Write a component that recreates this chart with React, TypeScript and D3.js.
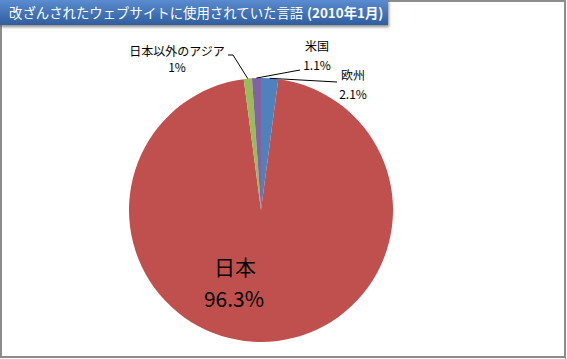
import React from "react";
import * as d3 from "d3";

const regions = ["欧州", "日本", "日本以外のアジア", "米国"];
const shares = [2.1, 96.3, 1, 1.1];
const shareLabels = ["2.1%", "96.3%", "1%", "1.1%"];
const colors = ["#4F81BD", "#C0504D", "#9BBB59", "#8064A2"];
const titleMain = "改ざんされたウェブサイトに使用されていた言語";
const titleDate = "(2010年1月)";

const W = 567;
const H = 359;
const font = "'Noto Sans CJK JP', 'Noto Sans', sans-serif";

const App: React.FC = () => {
  const cx = 261;
  const cy = 210;
  const r = 132;

  const pie = d3.pie<number>().sort(null).value((d) => d);
  const arcs = pie(shares);
  const arc = d3.arc<d3.PieArcDatum<number>>().innerRadius(0).outerRadius(r);

  // point on rim for leader lines
  const rim = (a: d3.PieArcDatum<number>) => {
    const mid = (a.startAngle + a.endAngle) / 2;
    return [cx + Math.sin(mid) * r, cy - Math.cos(mid) * r];
  };

  const eu = rim(arcs[0]);
  const asia = rim(arcs[2]);
  const us = rim(arcs[3]);

  return (
    <svg
      width={W}
      height={H}
      style={{ position: "absolute", left: 0, top: 0, fontFamily: font }}
    >
      <defs>
        <linearGradient id="titleGrad" x1="0" y1="0" x2="0" y2="1">
          <stop offset="0%" stopColor="#5B8BD0" />
          <stop offset="100%" stopColor="#2F5E9E" />
        </linearGradient>
        <filter id="shadow" x="-5%" y="-20%" width="110%" height="160%">
          <feDropShadow dx="1" dy="2" stdDeviation="1.5" floodColor="#000" floodOpacity="0.45" />
        </filter>
      </defs>
      <rect x={0} y={0} width={W} height={H} fill="#fff" />
      {/* frame */}
      <rect x={1} y={1} width={W - 3} height={H - 3} fill="none" stroke="#8C8C8C" strokeWidth={2} />
      <line x1={W - 1.5} y1={0} x2={W - 1.5} y2={H} stroke="#8C8C8C" strokeWidth={1} />

      {/* title */}
      <rect x={0} y={0} width={388} height={25} fill="url(#titleGrad)" filter="url(#shadow)" />
      <text x={9} y={18} fill="#fff" fontSize={13.4}>
        {titleMain}
      </text>
      <text x={307} y={18} fill="#fff" fontSize={13.4} fontWeight="bold">
        {titleDate}
      </text>

      {/* pie */}
      <g transform={`translate(${cx},${cy})`}>
        {arcs.map((a, i) => (
          <path key={regions[i]} d={arc(a) || ""} fill={colors[i]} />
        ))}
      </g>

      {/* leader lines */}
      <g stroke="#000" strokeWidth={1} fill="none">
        <polyline points={`228,55 233,55 ${asia[0]},${asia[1]}`} />
        <polyline points={`300,70 ${us[0]},${us[1]}`} />
        <polyline points={`337,82 ${eu[0]},${eu[1]}`} />
      </g>

      {/* labels */}
      <g fontSize={12} fill="#000" textAnchor="middle">
        <text x={177} y={56}>{regions[2]}</text>
        <text x={177} y={72}>{shareLabels[2]}</text>
        <text x={317} y={51}>{regions[3]}</text>
        <text x={317} y={70}>{shareLabels[3]}</text>
        <text x={353} y={80}>{regions[0]}</text>
        <text x={353} y={99}>{shareLabels[0]}</text>
      </g>
      <g fontSize={21} fill="#000" textAnchor="middle">
        <text x={235} y={275}>{regions[1]}</text>
        <text x={234} y={307}>{shareLabels[1]}</text>
      </g>
    </svg>
  );
};

export default App;
